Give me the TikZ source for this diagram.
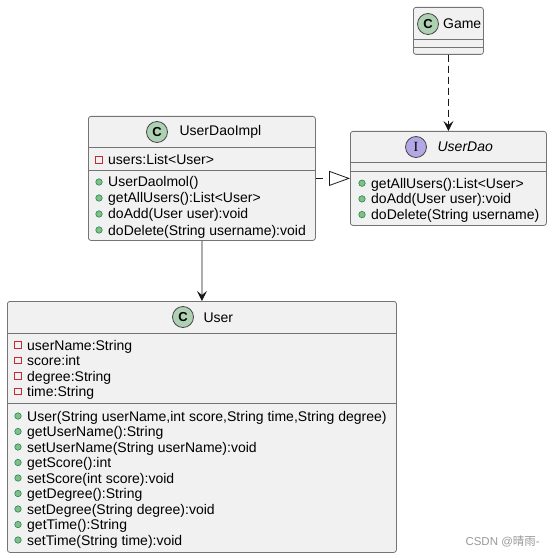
\documentclass[tikz,border=0pt]{standalone}
\usepackage{fontspec}
\setmainfont{Liberation Sans}
\newfontfamily\badgeserif{Liberation Serif}
\newfontfamily\cjkfont{Noto Sans CJK SC}
\usetikzlibrary{arrows.meta,calc,positioning}
\definecolor{boxfill}{HTML}{F1F1F1}
\definecolor{boxline}{HTML}{181818}
\definecolor{classgreen}{HTML}{ADD1B2}
\definecolor{ifacepurple}{HTML}{B4A7E5}
\definecolor{privred}{HTML}{C82930}
\definecolor{pubfill}{HTML}{84BE84}
\definecolor{publine}{HTML}{038048}
\tikzset{
  classbox/.style={draw=boxline!60, fill=boxfill, line width=0.8bp, rectangle, rounded corners=2.5bp, inner sep=0pt, anchor=north west},
  sepline/.style={draw=boxline!60, line width=0.8bp},
  badge/.style={circle, draw=boxline!80, line width=0.8bp, minimum size=21bp, inner sep=0pt, font=\fontsize{13bp}{13bp}\selectfont\bfseries},
  cname/.style={anchor=base west, inner sep=0pt, font=\fontsize{14bp}{16bp}\selectfont},
  member/.style={anchor=base west, inner sep=0pt, font=\fontsize{14bp}{16bp}\selectfont},
  priv/.style={rectangle, draw=privred, line width=0.8bp, minimum size=6.5bp, inner sep=0pt},
  pub/.style={circle, draw=publine, fill=pubfill, line width=0.5bp, minimum size=6.5bp, inner sep=0pt},
  depend/.style={draw=boxline, line width=0.8bp, dash pattern=on 7bp off 4bp, -{Stealth[length=10bp, width=10bp, inset=4bp]}},
  realize/.style={draw=boxline, line width=0.8bp, dash pattern=on 7bp off 7bp, -{Triangle[open, length=21bp, width=15bp]}},
  assoc/.style={draw=boxline, line width=0.8bp, -{Stealth[length=10bp, width=10bp, inset=4bp]}},
  watermark/.style={anchor=base east, inner sep=0pt, text=black!40, font=\fontsize{11.5bp}{12bp}\selectfont}
}
\begin{document}
\begin{tikzpicture}[x=1bp, y=-1bp]
  \useasboundingbox (0,0) rectangle (553,558);

  % class boxes
  \node[classbox, minimum width=70bp, minimum height=47bp] (game) at (413,7) {};
  \node[classbox, minimum width=227bp, minimum height=124bp] (impl) at (88,116) {};
  \node[classbox, minimum width=196bp, minimum height=94bp] (dao) at (350,131) {};
  \node[classbox, minimum width=389bp, minimum height=251bp] (user) at (7,301) {};

  \draw[sepline] ($(game.north west)+(0,32)$) -- ($(game.north east)+(0,32)$);
  \draw[sepline] ($(game.north west)+(0,40)$) -- ($(game.north east)+(0,40)$);
  \draw[sepline] ($(impl.north west)+(0,31)$) -- ($(impl.north east)+(0,31)$);
  \draw[sepline] ($(impl.north west)+(0,54)$) -- ($(impl.north east)+(0,54)$);
  \draw[sepline] ($(dao.north west)+(0,31)$) -- ($(dao.north east)+(0,31)$);
  \draw[sepline] ($(dao.north west)+(0,40)$) -- ($(dao.north east)+(0,40)$);
  \draw[sepline] ($(user.north west)+(0,32)$) -- ($(user.north east)+(0,32)$);
  \draw[sepline] ($(user.north west)+(0,102)$) -- ($(user.north east)+(0,102)$);

  % headers
  \node[badge, fill=classgreen] (gamec) at (428,24) {C};
  \node[cname] (gamename) at ($(gamec.east)+(4,5)$) {Game};
  \node[badge, fill=classgreen] (implc) at (157,132) {C};
  \node[cname] (implname) at ($(implc.east)+(11.5,4)$) {UserDaoImpl};
  \node[badge, fill=ifacepurple, font=\fontsize{14bp}{14bp}\selectfont\badgeserif] (daoc) at (416,147) {I};
  \node[cname, font=\fontsize{14bp}{16bp}\selectfont\itshape] (daoname) at ($(daoc.east)+(10.5,5)$) {UserDao};
  \node[badge, fill=classgreen] (userc) at (183,317) {C};
  \node[cname] (username) at ($(userc.east)+(9.5,5)$) {User};

  % members
  \node[member] (ia1) at (108,165) {users:List<User>};
  \node[priv] (iam1) at (99,160) {};
  \foreach \txt [count=\i] in {UserDaolmol(), getAllUsers():List<User>, doAdd(User user):void, doDelete(String username):void} {
    \node[member] (im\i) at (108,171+16*\i) {\txt};
    \node[pub] (imm\i) at (99,166+16*\i) {};
  }
  \foreach \txt [count=\i] in {getAllUsers():List<User>, doAdd(User user):void, doDelete(String username)} {
    \node[member] (dm\i) at (371,172.5+15.7*\i) {\txt};
    \node[pub] (dmm\i) at (362,167.5+15.7*\i) {};
  }
  \foreach \txt [count=\i] in {userName:String, score:int, degree:String, time:String} {
    \node[member] (ua\i) at (27,334.5+15.5*\i) {\txt};
    \node[priv] (uam\i) at (18,329.5+15.5*\i) {};
  }
  \foreach \txt [count=\i] in {{User(String userName,int score,String time,String degree)}, getUserName():String,
      {setUserName(String userName):void}, getScore():int, {setScore(int score):void}, getDegree():String,
      {setDegree(String degree):void}, getTime():String, {setTime(String time):void}} {
    \node[member] (um\i) at (27,405.5+15.5*\i) {\txt};
    \node[pub] (umm\i) at (18,400.5+15.5*\i) {};
  }

  % relations
  \draw[depend] (game) -- (dao);
  \draw[realize] (impl) -- (dao);
  \draw[assoc] (impl) -- (user);

  \node[watermark] (wm) at (540,545) {CSDN @{\cjkfont 晴雨}-};
\end{tikzpicture}
\end{document}
